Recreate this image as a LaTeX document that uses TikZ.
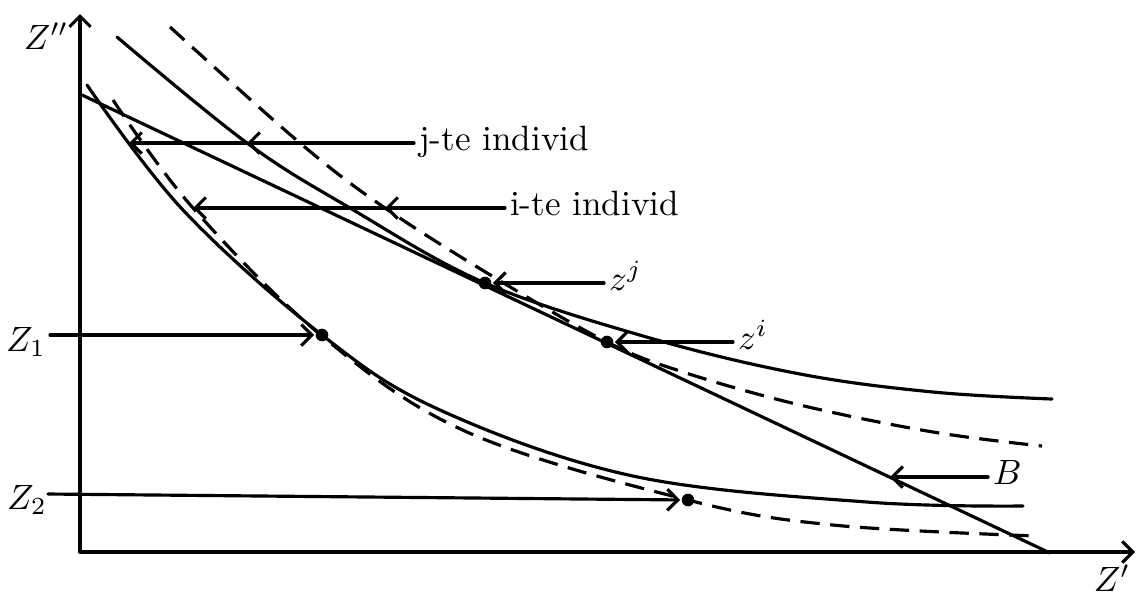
\documentclass[tikz,border=0pt]{standalone}
\usetikzlibrary{arrows.meta}

\begin{document}
\begin{tikzpicture}[x=0.01cm,y=-0.01cm,line width=0.9pt,line cap=round,
  >={Straight Barb[length=3pt,width=6pt]},
  dashline/.style={dash pattern=on 5.5pt off 3pt,line cap=butt},
  dot/.style={circle,fill,inner sep=0pt,minimum size=3.6pt},
  lbl/.style={inner sep=1pt}]
\useasboundingbox (0,0) rectangle (1137,593);
% axes
\coordinate (O) at (80,552); \coordinate (ytop) at (80,14); \coordinate (xend) at (1135,552);
\draw[->] (O) -- (ytop); \draw[->] (O) -- (xend);
\node[lbl] (zpp) at (46,36) {$Z''$}; \node[lbl] (zp) at (1112,578) {$Z'$};
% budget line B
\coordinate (b0) at (82,95); \coordinate (b1) at (1050,553);
\draw (b0) -- (b1);
% indifference curves: j solid, i dashed
\draw plot[smooth,tension=0.6] coordinates {(117,37) (247,143) (350,208) (485,283) (650,338) (800,374) (933,392) (1052,399)};
\draw[dashline] plot[smooth,tension=0.6] coordinates {(170,27) (300,143) (385,208) (497,279) (607,342) (683,372) (800,405) (933,432) (1042,446)};
\draw plot[smooth,tension=0.6] coordinates {(87,85) (183,210) (322,335) (440,410) (633,476) (867,502) (1023,506)};
\draw[dashline] plot[smooth,tension=0.6] coordinates {(113,100) (193,208) (322,336) (467,432) (688,500) (833,525) (1037,536)};
% points
\node[dot] (zj) at (485,283) {}; \node[dot] (zi) at (607,342) {};
\node[dot] (q1) at (322,335) {}; \node[dot] (q2) at (688,500) {};
% labels and pointers
\node[lbl,anchor=mid west] (lj) at (414,143) {j-te individ};
\coordinate (uj) at (247,143); \coordinate (wj) at (129,143);
\draw[->] (lj.mid west) -- (uj); \draw[->] (uj) -- (wj);
\node[lbl,anchor=mid west] (li) at (505,208) {i-te individ};
\coordinate (ui) at (385,208); \coordinate (wi) at (193,208);
\draw[->] (li.mid west) -- (ui); \draw[->] (ui) -- (wi);
\node[lbl,anchor=mid west] (lzj) at (604,283) {$z^j$};
\draw[->] (lzj.mid west) -- (zj);
\node[lbl,anchor=mid west] (lzi) at (733,342) {$z^i$};
\draw[->] (lzi.mid west) -- (zi);
\node[lbl,anchor=mid west] (lB) at (988,477) {$B$};
\coordinate (pB) at (890,477);
\draw[->] (lB.mid west) -- (pB);
\node[lbl] (Z1) at (26,342) {$Z_1$}; \coordinate (s1) at (50,335);
\draw[->] (s1) -- (q1);
\node[lbl] (Z2) at (27,500) {$Z_2$}; \coordinate (s2) at (48,494);
\draw[->] (s2) -- (q2);
\end{tikzpicture}
\end{document}
